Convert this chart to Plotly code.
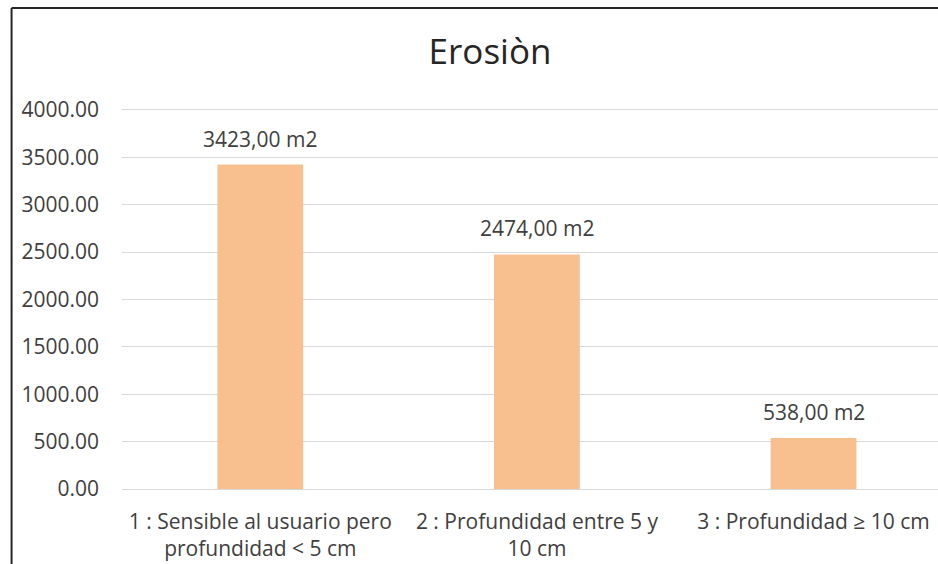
import plotly.graph_objects as go

# Data
categories = [
    "1 : Sensible al usuario pero<br>profundidad &lt; 5 cm",
    "2 : Profundidad entre 5 y<br>10 cm",
    "3 : Profundidad ≥ 10 cm",
]
values = [3423, 2474, 538]
value_labels = [f"{v:.2f}".replace(".", ",") + " m2" for v in values]
y_ticks = [0, 500, 1000, 1500, 2000, 2500, 3000, 3500, 4000]
title_text = "Erosiòn"

W, H = 938, 564
y_max = 4000
y_pad = 30
plot_left, plot_right = 121.5, 938
y4000_px, plot_bottom = 110, 489.5
scale = (plot_bottom - y4000_px) / y_max
plot_top = y4000_px - y_pad * scale
pw = plot_right - plot_left
ph = plot_bottom - plot_top

FONT = "Open Sans"
bar_color = "#F8BF8F"
text_color = "#404040"

fig = go.Figure()
fig.add_trace(go.Bar(
    x=categories,
    y=values,
    marker=dict(color=bar_color, line=dict(width=0)),
    width=0.31,
    hoverinfo="skip",
))

for c, v, t in zip(categories, values, value_labels):
    fig.add_annotation(
        x=c, y=v, text=t, showarrow=False,
        xref="x", yref="y", yanchor="bottom", yshift=10,
        font=dict(family=FONT, size=21, color=text_color),
    )

# chart border (left & top visible)
bx = (11 - plot_left) / pw
by = (plot_bottom - 8) / ph
fig.add_shape(type="line", xref="paper", yref="paper",
              x0=bx, x1=bx, y0=-0.5, y1=by,
              line=dict(color="#262626", width=2))
fig.add_shape(type="line", xref="paper", yref="paper",
              x0=bx, x1=1.2, y0=by, y1=by,
              line=dict(color="#262626", width=2))

fig.update_layout(
    width=W, height=H,
    margin=dict(l=plot_left, r=W - plot_right, t=plot_top, b=H - plot_bottom, pad=0),
    paper_bgcolor="white",
    plot_bgcolor="white",
    showlegend=False,
    title=dict(
        text=title_text,
        x=490 / W, xanchor="center",
        y=1 - 52 / H, yanchor="middle",
        xref="container", yref="container",
        font=dict(family=FONT, size=35, color="#262626"),
    ),
    font=dict(family=FONT, size=21, color=text_color),
    xaxis=dict(
        range=[-0.5, 2.45],
        showgrid=False, zeroline=False, showline=False,
        ticks="", ticklabelstandoff=18,
        tickfont=dict(family=FONT, size=21, color=text_color),
    ),
    yaxis=dict(
        range=[0, y_max + y_pad],
        tickvals=y_ticks,
        tickformat=".2f",
        showgrid=True, gridcolor="#D9D9D9", gridwidth=1,
        zeroline=True, zerolinecolor="#D9D9D9", zerolinewidth=1,
        showline=False,
        ticks="", ticklabelstandoff=22,
        tickfont=dict(family=FONT, size=21, color=text_color),
    ),
)

fig.write_html("out.html")
